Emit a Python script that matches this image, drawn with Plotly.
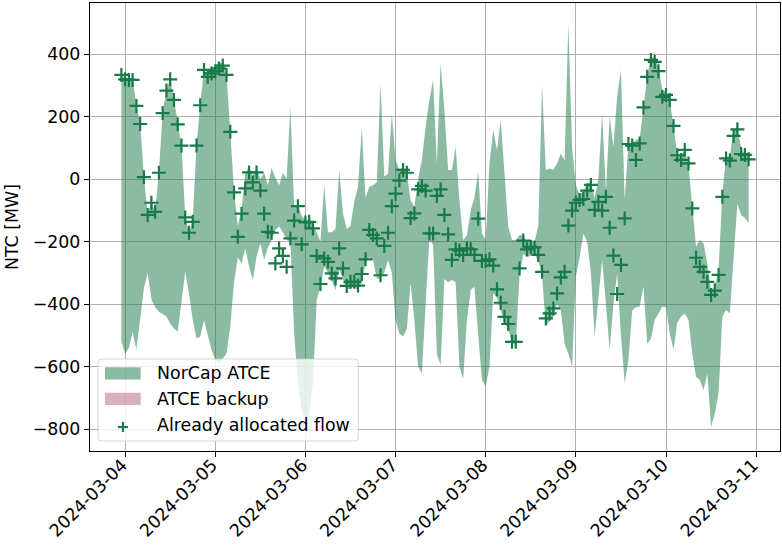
import pandas as pd
import plotly.graph_objects as go

# hourly timestamps (2024-03-03 23:00 .. 2024-03-10 22:00)
times = pd.date_range("2024-03-03 23:00", periods=168, freq="h")

allocated_flow = [
    333, 319, 317, 317, 234, 176, 6, -115, -76, -105, 20, 211, 283, 319, 253, 175, 107, -123, -172, -137,
    107, 236, 349, 327, 338, 345, 354, 363, 333, 151, -43, -185, -111, -30, 21, -11, 21, -37, -111, -169,
    -172, -270, -222, -246, -281, -190, -133, -87, -209, -139, -137, -158, -246, -336, -254, -265, -302, -318, -222, -286,
    -342, -329, -329, -341, -304, -257, -163, -179, -190, -308, -214, -172, -87, -47, -5, 29, 20, -125, -110, -33,
    -22, -37, -174, -174, -54, -33, -115, -177, -259, -225, -229, -243, -222, -225, -243, -127, -262, -262, -257, -277,
    -353, -396, -441, -464, -521, -521, -286, -197, -225, -217, -219, -243, -297, -446, -430, -414, -366, -315, -297, -149,
    -101, -76, -67, -64, -37, -19, -99, -73, -101, -57, -156, -245, -368, -275, -126, 112, 107, 61, 114, 229,
    327, 381, 375, 345, 263, 269, 253, 170, 76, 61, 93, 50, -94, -252, -281, -297, -329, -371, -357, -307,
    -57, 66, 59, 138, 159, 80, 77, 63,
]

atce_upper = [
    335, 320, 318, 318, 236, 178, 8, -113, -74, -103, 22, 213, 285, 321, 255, 177, 109, -121, -170, -135,
    109, 238, 351, 329, 345, 360, 375, 368, 335, 150, -40, -150, -100, 18, 40, 10, 35, 0, 20, -20,
    35, 5, -20, 20, 0, 231, -90, -80, -120, -130, -130, -150, -170, -200, -19, -170, -170, -160, 29, -110,
    -160, -150, -72, -25, 162, -60, -25, -20, -10, 306, 8, 18, 210, 61, 30, 40, 18, -67, -90, 0,
    60, 167, 253, 317, 50, 370, 221, 29, 29, 103, -67, -195, -180, -100, -60, 23, -174, -195, 50, 157,
    93, 189, 8, -152, -195, -195, -180, -180, -200, -195, -200, -150, 301, 29, 34, 30, 50, 82, 60, 498,
    100, -20, -50, -40, -15, -10, -60, 0, 210, -40, 199, 103, 263, 349, -67, 114, 114, 125, 130, 231,
    327, 391, 385, 359, 285, 280, 253, 167, 82, 75, 93, 39, -80, -216, -195, -206, -270, -355, -344, -291,
    -46, 71, 71, 162, 162, 100, 77, 71,
]

atce_lower = [
    -520, -560, -540, -490, -547, -450, -350, -300, -385, -410, -425, -432, -440, -462, -478, -488, -400, -297, -366, -450,
    -510, -505, -451, -500, -547, -579, -590, -575, -558, -470, -330, -250, -270, -222, -280, -323, -248, -206, -259, -220,
    -195, -163, -152, -170, -195, -200, -494, -654, -740, -780, -750, -654, -387, -345, -280, -300, -323, -355, -290, -320,
    -355, -350, -345, -355, -330, -270, -250, -260, -318, -320, -300, -260, -300, -451, -494, -504, -480, -334, -450, -600,
    -622, -400, -195, -210, -560, -595, -320, -330, -323, -330, -600, -640, -450, -355, -345, -500, -643, -664, -600, -366,
    -380, -420, -460, -480, -525, -530, -310, -240, -250, -245, -240, -260, -310, -470, -455, -440, -400, -420, -526, -558,
    -600, -312, -250, -174, -200, -300, -504, -380, -259, -400, -547, -400, -302, -500, -654, -579, -420, -410, -408, -345,
    -526, -510, -451, -430, -408, -410, -494, -547, -460, -440, -430, -451, -560, -633, -643, -675, -622, -793, -750, -686,
    -440, -419, -430, -250, -80, -115, -125, -140,
]

y_ticks = [-800, -600, -400, -200, 0, 200, 400]
x_ticks = pd.date_range("2024-03-04", "2024-03-11", freq="D")
legend_labels = ["NorCap ATCE", "ATCE backup", "Already allocated flow"]

MARK = "#177a48"
FILL = "rgba(23,122,72,0.5)"
PINK = "rgba(180,100,118,0.5)"
FONT = "DejaVu Sans"
FS = 17.4

# plot-area geometry in page pixels
L, R, T, B = 90.0, 780.5, 3.0, 451.0
W, H = R - L, B - T


def px(x):
    return (x - L) / W


def py(y):
    return (B - y) / H


fig = go.Figure()
fig.add_trace(go.Scatter(x=times, y=atce_lower, mode="lines", line=dict(width=0),
                         showlegend=False, hoverinfo="skip"))
fig.add_trace(go.Scatter(x=times, y=atce_upper, mode="lines", line=dict(width=0),
                         fill="tonexty", fillcolor=FILL, name=legend_labels[0], showlegend=False))
fig.add_trace(go.Scatter(x=times, y=allocated_flow, mode="markers",
                         marker=dict(symbol="cross-thin", size=10, line=dict(width=2.2, color=MARK), color=MARK),
                         name=legend_labels[2], showlegend=False))

axis_common = dict(showline=True, linecolor="black", linewidth=1.2, mirror=True,
                   ticks="outside", ticklen=5, tickwidth=1.2, tickcolor="black",
                   showgrid=True, gridcolor="#b0b0b0", gridwidth=1.1, zeroline=False,
                   tickfont=dict(family=FONT, size=FS, color="black"))

fig.update_xaxes(range=[pd.Timestamp("2024-03-03 14:39"), pd.Timestamp("2024-03-11 06:21")],
                 tickvals=x_ticks, ticktext=[d.strftime("%Y-%m-%d") for d in x_ticks],
                 tickangle=-45, ticklabelstandoff=-9, ticklabelshift=-3, **axis_common)
fig.update_yaxes(range=[-870.4, 563.2], tickvals=y_ticks, **axis_common)

# y-axis label
annotations = [dict(text="NTC [MW]", x=px(12), y=0.5, xref="paper", yref="paper",
                    textangle=-90, showarrow=False, xanchor="center", yanchor="middle",
                    font=dict(family=FONT, size=FS, color="black"))]

# custom matplotlib-style legend
bx0, bx1, by0, by1, r = 98.0, 358.5, 359.0, 441.0, 4.0
rx, ry = r / W, r / H
path = (f"M {px(bx0)+rx},{py(by0)} L {px(bx1)-rx},{py(by0)} Q {px(bx1)},{py(by0)} {px(bx1)},{py(by0)-ry} "
        f"L {px(bx1)},{py(by1)+ry} Q {px(bx1)},{py(by1)} {px(bx1)-rx},{py(by1)} "
        f"L {px(bx0)+rx},{py(by1)} Q {px(bx0)},{py(by1)} {px(bx0)},{py(by1)+ry} "
        f"L {px(bx0)},{py(by0)-ry} Q {px(bx0)},{py(by0)} {px(bx0)+rx},{py(by0)} Z")
shapes = [dict(type="path", path=path, xref="paper", yref="paper", layer="above",
               fillcolor="rgba(255,255,255,0.8)", line=dict(color="rgba(204,204,204,0.8)", width=1))]
for (y0, y1), col in [((367.3, 379.5), FILL), ((392.8, 405.0), PINK)]:
    shapes.append(dict(type="rect", xref="paper", yref="paper", layer="above",
                       x0=px(105), x1=px(140.7), y0=py(y1), y1=py(y0),
                       fillcolor=col, line=dict(width=0)))
cx, cy, hs = 123.0, 427.0, 5.0
shapes.append(dict(type="line", xref="paper", yref="paper", layer="above",
                   x0=px(cx - hs), x1=px(cx + hs), y0=py(cy), y1=py(cy), line=dict(color=MARK, width=2.2)))
shapes.append(dict(type="line", xref="paper", yref="paper", layer="above",
                   x0=px(cx), x1=px(cx), y0=py(cy - hs), y1=py(cy + hs), line=dict(color=MARK, width=2.2)))
for lab, yc in zip(legend_labels, [373.3, 399.0, 425.0]):
    annotations.append(dict(text=lab, x=px(155), y=py(yc), xref="paper", yref="paper",
                            showarrow=False, xanchor="left", yanchor="middle",
                            font=dict(family=FONT, size=FS, color="black")))

fig.update_layout(
    width=782, height=546,
    margin=dict(l=L, r=782 - R, t=T, b=546 - B, pad=0, autoexpand=False),
    plot_bgcolor="white", paper_bgcolor="white",
    font=dict(family=FONT, size=FS, color="black"),
    showlegend=False,
    shapes=shapes, annotations=annotations,
)

fig.write_html("out.html", config={"displayModeBar": False},
               post_script="document.body.style.margin='0px';")
